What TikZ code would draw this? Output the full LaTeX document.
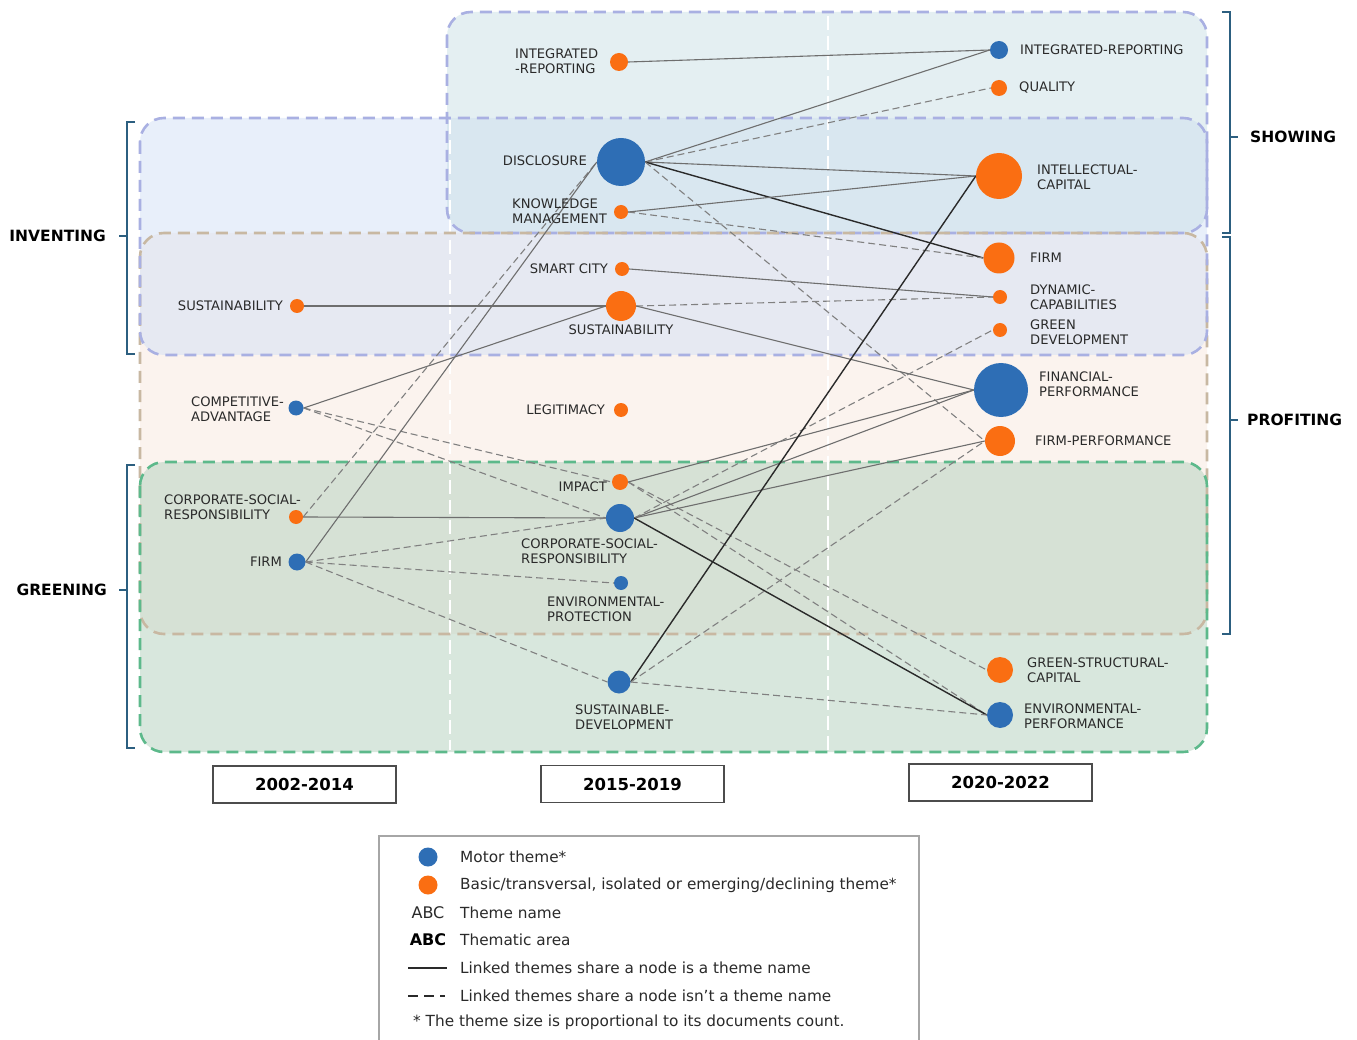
\documentclass[tikz,border=0pt]{standalone}
\usepackage{fontspec}
\setmainfont{DejaVu Sans}
\definecolor{mblue}{HTML}{2E6EB5}
\definecolor{morange}{HTML}{FA6E12}
\definecolor{lgray}{HTML}{6E6E6E}
\definecolor{dgray}{HTML}{808080}
\definecolor{dkline}{HTML}{2A2A2A}
\definecolor{txt}{HTML}{2A2A2A}
\definecolor{lav}{HTML}{A9B0E2}
\definecolor{tan}{HTML}{C8B8A2}
\definecolor{grn}{HTML}{5DB98B}
\definecolor{brk}{HTML}{2C5F80}
\definecolor{fI}{HTML}{D3E1F7}
\definecolor{fS}{HTML}{CBE1E7}
\definecolor{fP}{HTML}{F9E9DF}
\definecolor{fG}{HTML}{B3D1BD}
\pgfdeclarelayer{bgl}
\pgfdeclarelayer{edgel}
\pgfsetlayers{bgl,edgel,main}
\newcommand{\lblfont}{\fontsize{13.1}{15}\selectfont}
\newcommand{\areafont}{\fontsize{15.5}{17}\selectfont\bfseries}
\newcommand{\legfont}{\fontsize{15.3}{18}\selectfont}
\tikzset{
  bn/.style={circle, fill=mblue, inner sep=0pt, minimum size=#1},
  on/.style={circle, fill=morange, inner sep=0pt, minimum size=#1},
  lab/.style={font=\lblfont, text=txt, inner sep=0pt, align=left},
  labc/.style={font=\lblfont, text=txt, inner sep=0pt, align=center},
  area/.style={font=\areafont, text=black, inner sep=0pt},
  sl/.style={draw=lgray, line width=1.1pt},
  dl/.style={draw=dgray, line width=1.1pt, dash pattern=on 7pt off 4pt},
  dk/.style={draw=dkline, line width=1.4pt},
  zone/.style={rounded corners=24pt, line width=2.6pt, dash pattern=on 12pt off 7pt},
  wdash/.style={draw=white, line width=2.6pt, dash pattern=on 14pt off 6pt},
  bracket/.style={draw=brk, line width=1.8pt},
  yearbox/.style={draw=black!70, line width=1.4pt, minimum width=183pt, minimum height=37pt, inner sep=0pt, font=\fontsize{16.5}{18}\selectfont\bfseries},
  legt/.style={font=\legfont, text=txt, inner sep=0pt, anchor=west},
}
\begin{document}
\begin{tikzpicture}[x=1pt,y=-1pt]
\useasboundingbox (0,0) rectangle (1357,1040);

\begin{pgfonlayer}{bgl}
  \fill[white] (0,0) rectangle (1357,1040);
  % zone fills
  \fill[fP, fill opacity=0.5, rounded corners=24pt] (140,233) rectangle (1207,634);
  \fill[fI, fill opacity=0.5, rounded corners=24pt] (140,118) rectangle (1207,355);
  \fill[fS, fill opacity=0.5, rounded corners=24pt] (447,12) rectangle (1207,233);
  \fill[fG, fill opacity=0.5, rounded corners=24pt] (140,462) rectangle (1207,752);
  % period separators
  \draw[wdash] (450,120) -- (450,750);
  \draw[wdash] (828,16) -- (828,750);
  % zone borders
  \draw[zone, draw=lav] (447,12) rectangle (1207,233);
  \draw[zone, draw=tan] (140,233) rectangle (1207,634);
  \draw[zone, draw=lav] (140,118) rectangle (1207,355);
  \draw[zone, draw=grn] (140,462) rectangle (1207,752);
\end{pgfonlayer}

% brackets and thematic areas
\draw[bracket] (135,122) -- (127,122) -- (127,354) -- (135,354);
\draw[bracket] (127,236) -- (119,236);
\draw[bracket] (135,465) -- (127,465) -- (127,748) -- (135,748);
\draw[bracket] (127,590) -- (119,590);
\draw[bracket] (1222,12) -- (1230,12) -- (1230,233) -- (1222,233);
\draw[bracket] (1230,137) -- (1238,137);
\draw[bracket] (1222,237) -- (1230,237) -- (1230,634) -- (1222,634);
\draw[bracket] (1230,420) -- (1238,420);
\node[area, anchor=east] (aInv) at (106,236) {INVENTING};
\node[area, anchor=east] (aGre) at (107,590) {GREENING};
\node[area, anchor=west] (aSho) at (1250,137) {SHOWING};
\node[area, anchor=west] (aPro) at (1247,420) {PROFITING};

% ---- period 1 ----
\node[on=14] (sus1) at (297,306) {};
\node[bn=15] (comp) at (296,408) {};
\node[on=14] (csr1) at (296,517) {};
\node[bn=17] (firm1) at (297,562) {};
\node[lab, anchor=east] (lsus1) at (283,306) {SUSTAINABILITY};
\node[lab, anchor=west] (lcomp) at (191,409) {COMPETITIVE-\\ADVANTAGE};
\node[lab, anchor=west] (lcsr1) at (164,507) {CORPORATE-SOCIAL-\\RESPONSIBILITY};
\node[lab, anchor=east] (lfirm1) at (282,562) {FIRM};

% ---- period 2 ----
\node[on=18] (ir2) at (619,62) {};
\node[bn=48] (disc) at (621,162) {};
\node[on=14] (km) at (621,212) {};
\node[on=14] (smart) at (622,269) {};
\node[on=30] (sus2) at (621,306) {};
\node[on=14] (legit) at (621,410) {};
\node[on=16] (impact) at (620,482) {};
\node[bn=28] (csr2) at (620,518) {};
\node[bn=14] (envprot) at (621,583) {};
\node[bn=23] (sdev) at (619,682) {};
\node[lab, anchor=west] (lir2) at (515,61) {INTEGRATED\\-REPORTING};
\node[lab, anchor=east] (ldisc) at (587,161) {DISCLOSURE};
\node[lab, anchor=west] (lkm) at (512,211) {KNOWLEDGE\\MANAGEMENT};
\node[lab, anchor=east] (lsmart) at (608,269) {SMART CITY};
\node[labc] (lsus2) at (621,330) {SUSTAINABILITY};
\node[lab, anchor=east] (llegit) at (605,410) {LEGITIMACY};
\node[lab, anchor=east] (limpact) at (607,487) {IMPACT};
\node[lab, anchor=west] (lcsr2) at (521,551) {CORPORATE-SOCIAL-\\RESPONSIBILITY};
\node[lab, anchor=west] (lenvprot) at (547,609) {ENVIRONMENTAL-\\PROTECTION};
\node[lab, anchor=west] (lsdev) at (575,717) {SUSTAINABLE-\\DEVELOPMENT};

% ---- period 3 ----
\node[bn=18] (ir3) at (999,50) {};
\node[on=16] (qual) at (999,88) {};
\node[on=46] (icap) at (999,176) {};
\node[on=31] (firm3) at (999,258) {};
\node[on=14] (dyn) at (1000,297) {};
\node[on=14] (gdev) at (1000,330) {};
\node[bn=54] (fin) at (1001,390) {};
\node[on=30] (fperf) at (1000,441) {};
\node[on=26] (gsc) at (1000,670) {};
\node[bn=26] (eperf) at (1000,715) {};
\node[lab, anchor=west] (lir3) at (1020,50) {INTEGRATED-REPORTING};
\node[lab, anchor=west] (lqual) at (1019,87) {QUALITY};
\node[lab, anchor=west] (licap) at (1037,177) {INTELLECTUAL-\\CAPITAL};
\node[lab, anchor=west] (lfirm3) at (1030,258) {FIRM};
\node[lab, anchor=west] (ldyn) at (1030,297) {DYNAMIC-\\CAPABILITIES};
\node[lab, anchor=west] (lgdev) at (1030,332) {GREEN\\DEVELOPMENT};
\node[lab, anchor=west] (lfin) at (1039,384) {FINANCIAL-\\PERFORMANCE};
\node[lab, anchor=west] (lfperf) at (1035,441) {FIRM-PERFORMANCE};
\node[lab, anchor=west] (lgsc) at (1027,670) {GREEN-STRUCTURAL-\\CAPITAL};
\node[lab, anchor=west] (leperf) at (1024,716) {ENVIRONMENTAL-\\PERFORMANCE};

% ---- connectors ----
\begin{pgfonlayer}{edgel}
  % period 1 -> period 2
  \draw[sl] (sus1.east) -- (sus2.west);
  \draw[sl] (comp.east) -- (sus2.west);
  \draw[dl] (comp.east) -- (impact.west);
  \draw[dl] (comp.east) -- (csr2.west);
  \draw[sl] (csr1.east) -- (csr2.west);
  \draw[dl] (csr1.east) -- (disc.west);
  \draw[sl] (firm1.east) -- (disc.west);
  \draw[dl] (firm1.east) -- (csr2.west);
  \draw[dl] (firm1.east) -- (envprot.west);
  \draw[dl] (firm1.east) -- (sdev.west);
  % period 2 -> period 3
  \draw[sl] (ir2.east) -- (ir3.west);
  \draw[sl] (disc.east) -- (ir3.west);
  \draw[dl] (disc.east) -- (qual.west);
  \draw[sl] (disc.east) -- (icap.west);
  \draw[dk] (disc.east) -- (firm3.west);
  \draw[dl] (disc.east) -- (fperf.west);
  \draw[sl] (km.east) -- (icap.west);
  \draw[dl] (km.east) -- (firm3.west);
  \draw[sl] (smart.east) -- (dyn.west);
  \draw[dl] (sus2.east) -- (dyn.west);
  \draw[sl] (sus2.east) -- (fin.west);
  \draw[sl] (impact.east) -- (fin.west);
  \draw[dl] (impact.east) -- (gsc.west);
  \draw[dl] (impact.east) -- (eperf.west);
  \draw[sl] (csr2.east) -- (fin.west);
  \draw[sl] (csr2.east) -- (fperf.west);
  \draw[dl] (csr2.east) -- (gdev.west);
  \draw[dk] (csr2.east) -- (eperf.west);
  \draw[dk] (sdev.east) -- (icap.west);
  \draw[dl] (sdev.east) -- (fperf.west);
  \draw[dl] (sdev.east) -- (eperf.west);
\end{pgfonlayer}

% ---- periods ----
\node[yearbox] (y1) at (304.5,784.5) {2002-2014};
\node[yearbox] (y2) at (632.5,784) {2015-2019};
\node[yearbox] (y3) at (1000.5,782.5) {2020-2022};

% ---- legend ----
\draw[draw=black!35, line width=2pt] (379,1046) -- (379,836) -- (919,836) -- (919,1046);
\node[bn=19] (lgb) at (428,857) {};
\node[on=19] (lgo) at (428,885) {};
\node[font=\fontsize{16}{18}\selectfont, text=txt, inner sep=0pt] (lgabc) at (428,913) {ABC};
\node[font=\fontsize{16}{18}\selectfont\bfseries, text=black, inner sep=0pt] (lgabcb) at (428,940) {ABC};
\coordinate (ls1) at (408,968);
\coordinate (ls2) at (447,968);
\coordinate (ld1) at (408,996);
\coordinate (ld2) at (447,996);
\draw[draw=dkline, line width=1.5pt] (ls1) -- (ls2);
\draw[draw=dkline, line width=1.5pt, dash pattern=on 10pt off 6pt on 10pt off 6pt on 5pt off 20pt] (ld1) -- (ld2);
\node[legt] (lt1) at (460,857) {Motor theme*};
\node[legt] (lt2) at (460,885) {Basic/transversal, isolated or emerging/declining theme*};
\node[legt] (lt3) at (460,913) {Theme name};
\node[legt] (lt4) at (460,940) {Thematic area};
\node[legt] (lt5) at (460,968) {Linked themes share a node is a theme name};
\node[legt] (lt6) at (460,996) {Linked themes share a node isn’t a theme name};
\node[legt] (lt7) at (413,1022) {* The theme size is proportional to its documents count.};
\end{tikzpicture}
\end{document}
